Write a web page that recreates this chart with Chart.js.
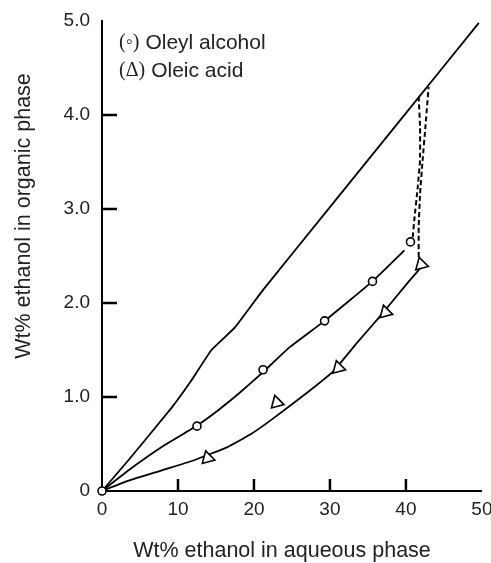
<!DOCTYPE html>
<html>
<head>
<meta charset="utf-8">
<script src="https://cdn.jsdelivr.net/npm/chart.js@4.4.1/dist/chart.umd.min.js"></script>
<style>
  html, body { margin: 0; padding: 0; background: #fff; }
  #wrap { width: 491px; height: 563px; }
</style>
</head>
<body>
<div id="wrap"><canvas id="partitionChart" width="491" height="563"></canvas></div>
<script>
// axes
const xTickLabels = ["0", "10", "20", "30", "40", "50"];
const yTickLabels = ["0", "1.0", "2.0", "3.0", "4.0", "5.0"];
const xTitle = "Wt% ethanol in aqueous phase";
const yTitle = "Wt% ethanol in organic phase";

// upper line (equal concentration boundary)
const upperX = [0, 3.5, 9.2, 11.8, 14.4, 17.5, 21.2, 30, 40, 49.6];
const upperY = [0, 0.33, 0.89, 1.18, 1.50, 1.74, 2.14, 3.02, 4.02, 4.98];

// oleyl alcohol: fitted curve and measured points
const alcoholCurveX = [0, 3.5, 7.9, 12.2, 15.3, 18.2, 21.0, 24.7, 29.3, 35.6, 39.8];
const alcoholCurveY = [0, 0.22, 0.47, 0.68, 0.86, 1.05, 1.25, 1.53, 1.81, 2.23, 2.56];
const alcoholX = [0, 12.5, 21.2, 29.3, 35.6, 40.6];
const alcoholY = [0, 0.69, 1.29, 1.81, 2.23, 2.65];

// oleic acid: fitted curve and measured points
const acidCurveX = [0, 3.5, 7.9, 12.2, 16.6, 19.5, 22.5, 26.9, 30.4, 33.5, 36.5, 40.5, 42.0];
const acidCurveY = [0, 0.11, 0.22, 0.33, 0.47, 0.60, 0.77, 1.04, 1.27, 1.57, 1.85, 2.24, 2.38];
const acidX = [13.9, 23.0, 31.1, 37.3, 42.0];
const acidY = [0.35, 0.94, 1.31, 1.90, 2.41];

// dashed tie-in lines up to the upper line
const dashAlcoholX = [40.9, 41.1, 41.55, 41.86, 41.86, 41.68];
const dashAlcoholY = [2.70, 2.88, 3.23, 3.52, 3.87, 4.19];
const dashAcidX = [41.68, 41.68, 41.86, 42.2, 42.56, 42.99];
const dashAcidY = [2.49, 2.81, 3.16, 3.52, 3.87, 4.30];

const toPoints = (xs, ys) => xs.map((x, i) => ({ x: x, y: ys[i] }));

const SANS = '"Liberation Sans", Arial, sans-serif';
const SERIF = '"Liberation Serif", "DejaVu Serif", serif';
const TEXT = "#222";

function lineSet(xs, ys, dash) {
    return {
        data: toPoints(xs, ys),
        showLine: true,
        borderColor: "#000",
        borderWidth: dash ? 2 : 1.8,
        borderDash: dash ? [5, 3] : [],
        tension: 0.1,
        pointRadius: 0,
        clip: false
    };
}

function markerSet(xs, ys, style) {
    return {
        data: toPoints(xs, ys),
        showLine: false,
        pointStyle: style,
        pointRadius: style === "triangle" ? 7.5 : 4,
        pointRotation: style === "triangle" ? -15 : 0,
        borderColor: "#000",
        borderWidth: 1.6,
        backgroundColor: "#fff",
        clip: false
    };
}

// inward tick marks, titles and the key text
const decorations = {
    id: "decorations",
    afterDraw(chart) {
        const ctx = chart.ctx;
        const xs = chart.scales.x;
        const ys = chart.scales.y;
        const area = chart.chartArea;
        ctx.save();
        ctx.strokeStyle = "#000";
        ctx.lineWidth = 2.5;
        ctx.beginPath();
        for (let v = 1; v <= 4; v++) {
            const py = ys.getPixelForValue(v);
            ctx.moveTo(area.left, py);
            ctx.lineTo(area.left + 15, py);
        }
        for (let v = 10; v <= 40; v += 10) {
            const px = xs.getPixelForValue(v);
            ctx.moveTo(px, area.bottom);
            ctx.lineTo(px, area.bottom - 12);
        }
        ctx.stroke();

        ctx.fillStyle = TEXT;
        ctx.textBaseline = "middle";
        ctx.textAlign = "center";
        ctx.font = "21.5px " + SANS;
        ctx.fillText(xTitle, 282, 551);
        ctx.save();
        ctx.translate(24.5, 216);
        ctx.rotate(-Math.PI / 2);
        ctx.fillText(yTitle, 0, 0);
        ctx.restore();

        ctx.textAlign = "left";
        const keys = [["(\u25E6)", "Oleyl alcohol", 43], ["(\u0394)", "Oleic acid", 71]];
        keys.forEach(k => {
            ctx.font = "20px " + SERIF;
            ctx.fillText(k[0], 119, k[2]);
            const w = ctx.measureText(k[0]).width;
            ctx.font = "21px " + SANS;
            ctx.fillText(k[1], 119 + w + 6, k[2]);
        });
        ctx.restore();
    }
};

const ctx = document.getElementById("partitionChart").getContext("2d");
new Chart(ctx, {
    type: "scatter",
    data: {
        datasets: [
            markerSet(alcoholX, alcoholY, "circle"),
            markerSet(acidX, acidY, "triangle"),
            lineSet(upperX, upperY, false),
            lineSet(alcoholCurveX, alcoholCurveY, false),
            lineSet(acidCurveX, acidCurveY, false),
            lineSet(dashAlcoholX, dashAlcoholY, true),
            lineSet(dashAcidX, dashAcidY, true)
        ]
    },
    options: {
        responsive: false,
        animation: false,
        events: [],
        layout: { padding: { top: 21, right: 8, left: 0, bottom: 0 } },
        plugins: { legend: { display: false }, tooltip: { enabled: false } },
        scales: {
            x: {
                type: "linear",
                min: 0,
                max: 50,
                afterFit: scale => {
                    scale.height = 72;
                    scale.paddingLeft = 0;
                    scale.paddingRight = 0;
                },
                grid: { display: false, drawTicks: false },
                border: { display: true, color: "#000", width: 2 },
                ticks: {
                    stepSize: 10,
                    padding: 7,
                    color: TEXT,
                    font: { family: SANS, size: 19 },
                    callback: (value, index) => xTickLabels[index]
                }
            },
            y: {
                type: "linear",
                min: 0,
                max: 5,
                afterFit: scale => {
                    scale.width = 102;
                    scale.paddingTop = 0;
                    scale.paddingBottom = 0;
                },
                grid: { display: false, drawTicks: false },
                border: { display: true, color: "#000", width: 2 },
                ticks: {
                    stepSize: 1,
                    padding: 12,
                    color: TEXT,
                    font: { family: SANS, size: 19 },
                    callback: (value, index) => yTickLabels[index]
                }
            }
        }
    },
    plugins: [decorations]
});
</script>
</body>
</html>
